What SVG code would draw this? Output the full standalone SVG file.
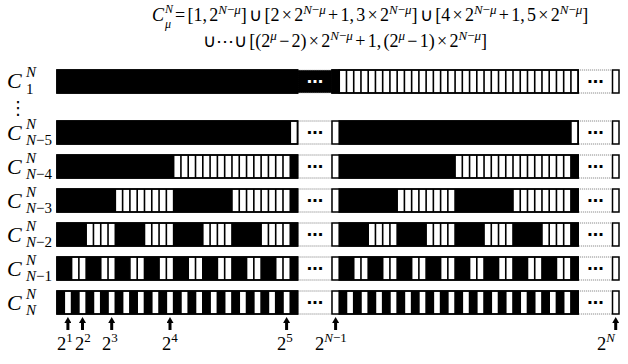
<svg xmlns="http://www.w3.org/2000/svg" width="628" height="364" viewBox="0 0 628 364">
<style>
.fm{font-family:"Liberation Serif","Times New Roman",serif;font-size:18px;word-spacing:-2.2px;fill:#000}
.it{font-style:italic}
.sm{font-size:13px}
.lbC{font-family:"Liberation Serif",serif;font-style:italic;font-size:22px;fill:#000}
.lbS{font-family:"Liberation Serif",serif;font-size:15px;fill:#000}
.cw{fill:#fff;stroke:#000;stroke-width:1.5}
.cb{fill:#000;stroke:#000;stroke-width:1.5}
.grid{fill:none;stroke:#000;stroke-width:1.6;vector-effect:non-scaling-stroke}
.dots{fill:#fff;stroke:#777;stroke-width:1;stroke-dasharray:1 1}
.dotsb{fill:#000;stroke:#bbb;stroke-width:1;stroke-dasharray:1 1}
.dt{font-family:"DejaVu Sans",sans-serif;font-size:16px;font-weight:bold;text-anchor:middle;fill:#000}
.ax{font-family:"Liberation Serif",serif;font-size:18.5px;fill:#000}
.axs{font-size:13px}
.arr{stroke:#000;stroke-width:3;fill:none;marker-end:url(#ah)}
</style>
<defs>
<marker id="ah" viewBox="0 0 6 7" refX="0.5" refY="3.5" markerWidth="6" markerHeight="7" markerUnits="userSpaceOnUse" orient="auto">
<path d="M0,0 L6,3.5 L0,7 Z" fill="#000"/>
</marker>
<path id="grid" class="grid" d="M0 0H33V23H0Z M1 0V23M2 0V23M3 0V23M4 0V23M5 0V23M6 0V23M7 0V23M8 0V23M9 0V23M10 0V23M11 0V23M12 0V23M13 0V23M14 0V23M15 0V23M16 0V23M17 0V23M18 0V23M19 0V23M20 0V23M21 0V23M22 0V23M23 0V23M24 0V23M25 0V23M26 0V23M27 0V23M28 0V23M29 0V23M30 0V23M31 0V23M32 0V23"/>
<g id="p1"><rect x="0" y="0" width="33" height="23"/></g>
<g id="p5"><rect x="0" y="0" width="32" height="23"/></g>
<g id="p4"><rect x="0" y="0" width="16" height="23"/><rect x="32" y="0" width="1" height="23"/></g>
<g id="p3"><rect x="0" y="0" width="8" height="23"/><rect x="16" y="0" width="8" height="23"/><rect x="32" y="0" width="1" height="23"/></g>
<g id="p2"><rect x="0" y="0" width="4" height="23"/><rect x="8" y="0" width="4" height="23"/><rect x="16" y="0" width="4" height="23"/><rect x="24" y="0" width="4" height="23"/><rect x="32" y="0" width="1" height="23"/></g>
<g id="pn1"><rect x="0" y="0" width="2" height="23"/><rect x="4" y="0" width="2" height="23"/><rect x="8" y="0" width="2" height="23"/><rect x="12" y="0" width="2" height="23"/><rect x="16" y="0" width="2" height="23"/><rect x="20" y="0" width="2" height="23"/><rect x="24" y="0" width="2" height="23"/><rect x="28" y="0" width="2" height="23"/><rect x="32" y="0" width="1" height="23"/></g>
<g id="pn"><rect x="0" y="0" width="1" height="23"/><rect x="2" y="0" width="1" height="23"/><rect x="4" y="0" width="1" height="23"/><rect x="6" y="0" width="1" height="23"/><rect x="8" y="0" width="1" height="23"/><rect x="10" y="0" width="1" height="23"/><rect x="12" y="0" width="1" height="23"/><rect x="14" y="0" width="1" height="23"/><rect x="16" y="0" width="1" height="23"/><rect x="18" y="0" width="1" height="23"/><rect x="20" y="0" width="1" height="23"/><rect x="22" y="0" width="1" height="23"/><rect x="24" y="0" width="1" height="23"/><rect x="26" y="0" width="1" height="23"/><rect x="28" y="0" width="1" height="23"/><rect x="30" y="0" width="1" height="23"/><rect x="32" y="0" width="1" height="23"/></g>
</defs>
<rect width="628" height="364" fill="#fff"/>

<g id="formula">
<text class="fm it" x="152" y="21">C</text>
<text class="fm it" x="165" y="13" style="font-size:12px">N</text>
<text class="fm it" x="165" y="27.5" style="font-size:12px">μ</text>
<text class="fm" x="175" y="21"> = [1, 2<tspan class="sm" dy="-7"><tspan class="it">N</tspan>−<tspan class="it">μ</tspan></tspan><tspan dy="7">] ∪ [2 × 2</tspan><tspan class="sm" dy="-7"><tspan class="it">N</tspan>−<tspan class="it">μ</tspan></tspan><tspan dy="7"> + 1, 3 × 2</tspan><tspan class="sm" dy="-7"><tspan class="it">N</tspan>−<tspan class="it">μ</tspan></tspan><tspan dy="7">] ∪ [4 × 2</tspan><tspan class="sm" dy="-7"><tspan class="it">N</tspan>−<tspan class="it">μ</tspan></tspan><tspan dy="7"> + 1, 5 × 2</tspan><tspan class="sm" dy="-7"><tspan class="it">N</tspan>−<tspan class="it">μ</tspan></tspan><tspan dy="7">]</tspan></text>
<text class="fm" x="203" y="47">∪⋯∪ [(2<tspan class="sm it" dy="-7">μ</tspan><tspan dy="7"> − 2) × 2</tspan><tspan class="sm" dy="-7"><tspan class="it">N</tspan>−<tspan class="it">μ</tspan></tspan><tspan dy="7"> + 1, (2</tspan><tspan class="sm it" dy="-7">μ</tspan><tspan dy="7"> − 1) × 2</tspan><tspan class="sm" dy="-7"><tspan class="it">N</tspan>−<tspan class="it">μ</tspan></tspan><tspan dy="7">]</tspan></text>
</g>

<g id="row-C1" transform="translate(0,70)">
<rect class="dotsb" x="297.57" y="0" width="34.43" height="23"/>
<text class="dt" x="314.8" y="16.5" style="fill:#fff">⋯</text>
<rect class="dots" x="578.16" y="0" width="34.34" height="23"/>
<text class="dt" x="595.3" y="16.5">⋯</text>
<rect class="cw" x="57" y="0" width="240.57" height="23"/>
<use href="#p1" transform="translate(57,0) scale(7.29,1)"/>
<use href="#grid" transform="translate(57,0) scale(7.29,1)"/>
<rect class="cw" x="332" y="0" width="246.16" height="23"/>
<rect class="cb" x="332" y="0" width="7.24" height="23"/>
<use href="#grid" transform="translate(339.24,0) scale(7.24,1)"/>
<rect class="cw" x="612.5" y="0" width="6.5" height="23"/>
<text class="lbC" x="7" y="18">C</text><text class="lbS" x="26" y="7"><tspan class="it">N</tspan></text><text class="lbS" x="26" y="24">1</text>
</g>

<g id="vdots"><text x="18" y="114" font-family="DejaVu Sans, sans-serif" font-size="18" text-anchor="middle" fill="#000">⋮</text></g>

<g id="row-CN5" transform="translate(0,121)">
<rect class="dots" x="297.57" y="0" width="34.43" height="23"/><text class="dt" x="314.8" y="16.5">⋯</text>
<rect class="dots" x="578.16" y="0" width="34.34" height="23"/><text class="dt" x="595.3" y="16.5">⋯</text>
<rect class="cw" x="57" y="0" width="240.57" height="23"/>
<use href="#p5" transform="translate(57,0) scale(7.29,1)"/>
<use href="#grid" transform="translate(57,0) scale(7.29,1)"/>
<rect class="cw" x="332" y="0" width="246.16" height="23"/>
<use href="#p5" transform="translate(339.24,0) scale(7.24,1)"/>
<use href="#grid" transform="translate(339.24,0) scale(7.24,1)"/>
<rect class="cw" x="612.5" y="0" width="6.5" height="23"/>
<text class="lbC" x="7" y="19">C</text><text class="lbS" x="26" y="7.5"><tspan class="it">N</tspan></text><text class="lbS" x="26" y="23.5"><tspan class="it">N</tspan>−5</text>
</g>

<g id="row-CN4" transform="translate(0,155)">
<rect class="dots" x="297.57" y="0" width="34.43" height="23"/><text class="dt" x="314.8" y="16.5">⋯</text>
<rect class="dots" x="578.16" y="0" width="34.34" height="23"/><text class="dt" x="595.3" y="16.5">⋯</text>
<rect class="cw" x="57" y="0" width="240.57" height="23"/>
<use href="#p4" transform="translate(57,0) scale(7.29,1)"/>
<use href="#grid" transform="translate(57,0) scale(7.29,1)"/>
<rect class="cw" x="332" y="0" width="246.16" height="23"/>
<use href="#p4" transform="translate(339.24,0) scale(7.24,1)"/>
<use href="#grid" transform="translate(339.24,0) scale(7.24,1)"/>
<rect class="cw" x="612.5" y="0" width="6.5" height="23"/>
<text class="lbC" x="7" y="19">C</text><text class="lbS" x="26" y="7.5"><tspan class="it">N</tspan></text><text class="lbS" x="26" y="23.5"><tspan class="it">N</tspan>−4</text>
</g>

<g id="row-CN3" transform="translate(0,189)">
<rect class="dots" x="297.57" y="0" width="34.43" height="23"/><text class="dt" x="314.8" y="16.5">⋯</text>
<rect class="dots" x="578.16" y="0" width="34.34" height="23"/><text class="dt" x="595.3" y="16.5">⋯</text>
<rect class="cw" x="57" y="0" width="240.57" height="23"/>
<use href="#p3" transform="translate(57,0) scale(7.29,1)"/>
<use href="#grid" transform="translate(57,0) scale(7.29,1)"/>
<rect class="cw" x="332" y="0" width="246.16" height="23"/>
<use href="#p3" transform="translate(339.24,0) scale(7.24,1)"/>
<use href="#grid" transform="translate(339.24,0) scale(7.24,1)"/>
<rect class="cw" x="612.5" y="0" width="6.5" height="23"/>
<text class="lbC" x="7" y="19">C</text><text class="lbS" x="26" y="7.5"><tspan class="it">N</tspan></text><text class="lbS" x="26" y="23.5"><tspan class="it">N</tspan>−3</text>
</g>

<g id="row-CN2" transform="translate(0,223)">
<rect class="dots" x="297.57" y="0" width="34.43" height="23"/><text class="dt" x="314.8" y="16.5">⋯</text>
<rect class="dots" x="578.16" y="0" width="34.34" height="23"/><text class="dt" x="595.3" y="16.5">⋯</text>
<rect class="cw" x="57" y="0" width="240.57" height="23"/>
<use href="#p2" transform="translate(57,0) scale(7.29,1)"/>
<use href="#grid" transform="translate(57,0) scale(7.29,1)"/>
<rect class="cw" x="332" y="0" width="246.16" height="23"/>
<use href="#p2" transform="translate(339.24,0) scale(7.24,1)"/>
<use href="#grid" transform="translate(339.24,0) scale(7.24,1)"/>
<rect class="cw" x="612.5" y="0" width="6.5" height="23"/>
<text class="lbC" x="7" y="19">C</text><text class="lbS" x="26" y="7.5"><tspan class="it">N</tspan></text><text class="lbS" x="26" y="23.5"><tspan class="it">N</tspan>−2</text>
</g>

<g id="row-CN1" transform="translate(0,257)">
<rect class="dots" x="297.57" y="0" width="34.43" height="23"/><text class="dt" x="314.8" y="16.5">⋯</text>
<rect class="dots" x="578.16" y="0" width="34.34" height="23"/><text class="dt" x="595.3" y="16.5">⋯</text>
<rect class="cw" x="57" y="0" width="240.57" height="23"/>
<use href="#pn1" transform="translate(57,0) scale(7.29,1)"/>
<use href="#grid" transform="translate(57,0) scale(7.29,1)"/>
<rect class="cw" x="332" y="0" width="246.16" height="23"/>
<use href="#pn1" transform="translate(339.24,0) scale(7.24,1)"/>
<use href="#grid" transform="translate(339.24,0) scale(7.24,1)"/>
<rect class="cw" x="612.5" y="0" width="6.5" height="23"/>
<text class="lbC" x="7" y="19">C</text><text class="lbS" x="26" y="7.5"><tspan class="it">N</tspan></text><text class="lbS" x="26" y="23.5"><tspan class="it">N</tspan>−1</text>
</g>

<g id="row-CN" transform="translate(0,291)">
<rect class="dots" x="297.57" y="0" width="34.43" height="23"/><text class="dt" x="314.8" y="16.5">⋯</text>
<rect class="dots" x="578.16" y="0" width="34.34" height="23"/><text class="dt" x="595.3" y="16.5">⋯</text>
<rect class="cw" x="57" y="0" width="240.57" height="23"/>
<use href="#pn" transform="translate(57,0) scale(7.29,1)"/>
<use href="#grid" transform="translate(57,0) scale(7.29,1)"/>
<rect class="cw" x="332" y="0" width="246.16" height="23"/>
<use href="#pn" transform="translate(339.24,0) scale(7.24,1)"/>
<use href="#grid" transform="translate(339.24,0) scale(7.24,1)"/>
<rect class="cw" x="612.5" y="0" width="6.5" height="23"/>
<text class="lbC" x="7" y="19">C</text><text class="lbS" x="26" y="7.5"><tspan class="it">N</tspan></text><text class="lbS" x="26" y="23.5"><tspan class="it">N</tspan></text>
</g>

<g id="connectors">
<path class="arr" d="M67.9 330V322.5"/>
<path class="arr" d="M82.5 330V322.5"/>
<path class="arr" d="M111.7 330V322.5"/>
<path class="arr" d="M170 330V322.5"/>
<path class="arr" d="M286.6 330V322.5"/>
<path class="arr" d="M335.6 330V322.5"/>
<path class="arr" d="M615.7 330V322.5"/>
</g>

<g id="axis-labels">
<text class="ax" x="57" y="350">2<tspan class="axs" dy="-8">1</tspan></text>
<text class="ax" x="75" y="350">2<tspan class="axs" dy="-8">2</tspan></text>
<text class="ax" x="102" y="350">2<tspan class="axs" dy="-8">3</tspan></text>
<text class="ax" x="162" y="350">2<tspan class="axs" dy="-8">4</tspan></text>
<text class="ax" x="277" y="350">2<tspan class="axs" dy="-8">5</tspan></text>
<text class="ax" x="315" y="350">2<tspan class="axs" dy="-8"><tspan class="it">N</tspan>−1</tspan></text>
<text class="ax" x="597" y="350">2<tspan class="axs it" dy="-8">N</tspan></text>
</g>
</svg>
